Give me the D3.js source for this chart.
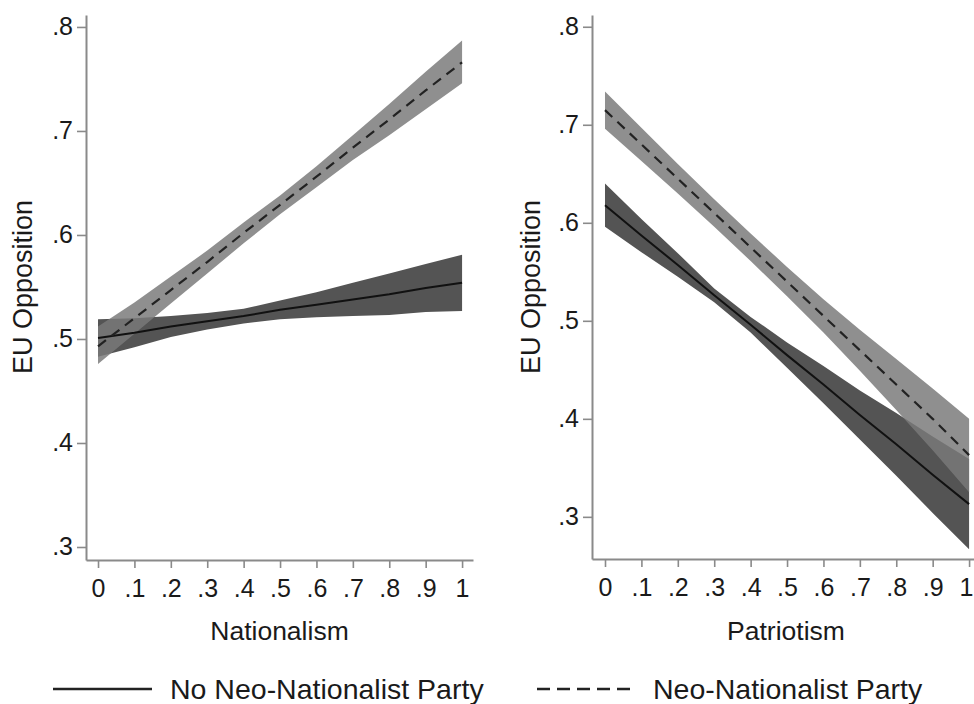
<!DOCTYPE html>
<html>
<head>
<meta charset="utf-8">
<script src="https://cdn.jsdelivr.net/npm/d3@7"></script>
<style>
  html, body { margin: 0; padding: 0; background: #fff; }
  svg { display: block; font-family: "Liberation Sans", Arial, sans-serif; }
</style>
</head>
<body>
<svg id="chart" width="974" height="704"></svg>
<script>
// ---------- data ----------
const xValues = [0, 0.1, 0.2, 0.3, 0.4, 0.5, 0.6, 0.7, 0.8, 0.9, 1];
const xTicks = [0, 0.1, 0.2, 0.3, 0.4, 0.5, 0.6, 0.7, 0.8, 0.9, 1];
const yTicks = [0.3, 0.4, 0.5, 0.6, 0.7, 0.8];
const xTitles = ["Nationalism", "Patriotism"];
const yTitle = "EU Opposition";
const seriesNames = ["No Neo-Nationalist Party", "Neo-Nationalist Party"];

// Panel 1: Nationalism
const natNoFit   = [0.501, 0.506, 0.512, 0.517, 0.522, 0.528, 0.533, 0.538, 0.543, 0.549, 0.554];
const natNoLow   = [0.483, 0.492, 0.502, 0.509, 0.515, 0.519, 0.521, 0.522, 0.523, 0.526, 0.527];
const natNoHigh  = [0.519, 0.520, 0.522, 0.525, 0.529, 0.537, 0.545, 0.554, 0.563, 0.572, 0.581];
const natNeoFit  = [0.493, 0.520, 0.547, 0.574, 0.602, 0.629, 0.656, 0.684, 0.711, 0.739, 0.766];
const natNeoLow  = [0.476, 0.505, 0.534, 0.563, 0.592, 0.620, 0.646, 0.672, 0.696, 0.721, 0.746];
const natNeoHigh = [0.512, 0.535, 0.560, 0.585, 0.612, 0.638, 0.666, 0.696, 0.726, 0.757, 0.787];

// Panel 2: Patriotism
const patNoFit   = [0.618, 0.587, 0.557, 0.526, 0.496, 0.465, 0.435, 0.404, 0.374, 0.343, 0.313];
const patNoLow   = [0.596, 0.570, 0.545, 0.519, 0.488, 0.452, 0.416, 0.379, 0.342, 0.304, 0.267];
const patNoHigh  = [0.640, 0.604, 0.569, 0.533, 0.504, 0.478, 0.454, 0.429, 0.406, 0.382, 0.359];
const patNeoFit  = [0.715, 0.680, 0.645, 0.610, 0.575, 0.540, 0.505, 0.470, 0.435, 0.400, 0.363];
const patNeoLow  = [0.696, 0.663, 0.630, 0.596, 0.561, 0.525, 0.488, 0.449, 0.409, 0.368, 0.325];
const patNeoHigh = [0.734, 0.697, 0.660, 0.624, 0.589, 0.555, 0.522, 0.491, 0.461, 0.431, 0.400];

// ---------- layout ----------
const panels = [
  { title: xTitles[0], xDom: [-0.033, 1.030], xRange: [86, 473], yDom: [0.2875, 0.8115], yRange: [560, 15],
    no: [natNoFit, natNoLow, natNoHigh], neo: [natNeoFit, natNeoLow, natNeoHigh], yTitleX: 32, lastDx: 0 },
  { title: xTitles[1], xDom: [-0.0357, 1.030], xRange: [592, 980], yDom: [0.257, 0.812], yRange: [559, 15],
    no: [patNoFit, patNoLow, patNoHigh], neo: [patNeoFit, patNeoLow, patNeoHigh], yTitleX: 540, lastDx: -3 }
];

const svg = d3.select("#chart");
const axisColor = "#8a8a8a";
const darkFill = "#545454";
const lightFill = "#7a7a7a";
const lightOpacity = 0.84;

const fmt = v => (v === 0 ? "0" : v === 1 ? "1" : d3.format(".1f")(v).replace(/^0/, ""));

panels.forEach(p => {
  const x = d3.scaleLinear().domain(p.xDom).range(p.xRange);
  const y = d3.scaleLinear().domain(p.yDom).range(p.yRange);
  const g = svg.append("g");

  const area = (lo, hi) => d3.area()
    .x((d, i) => x(xValues[i]))
    .y0((d, i) => y(lo[i]))
    .y1((d, i) => y(hi[i]))(xValues);
  const line = vals => d3.line()
    .x((d, i) => x(xValues[i]))
    .y((d, i) => y(vals[i]))(xValues);

  // CI bands
  g.append("path").attr("d", area(p.no[1], p.no[2])).attr("fill", darkFill);
  g.append("path").attr("d", area(p.neo[1], p.neo[2])).attr("fill", lightFill).attr("fill-opacity", lightOpacity);
  // fitted lines
  g.append("path").attr("d", line(p.no[0])).attr("fill", "none").attr("stroke", "#111").attr("stroke-width", 2);
  g.append("path").attr("d", line(p.neo[0])).attr("fill", "none").attr("stroke", "#222")
    .attr("stroke-width", 2.2).attr("stroke-dasharray", "10,7");

  // axes
  const yAxis = d3.axisLeft(y).tickValues(yTicks).tickFormat(fmt).tickSizeInner(9).tickSizeOuter(0).tickPadding(4);
  const xAxis = d3.axisBottom(x).tickValues(xTicks).tickFormat(fmt).tickSizeInner(8).tickSizeOuter(0).tickPadding(11);

  const ya = g.append("g").attr("transform", `translate(${p.xRange[0]},0)`).call(yAxis);
  const xa = g.append("g").attr("transform", `translate(0,${p.yRange[0]})`).call(xAxis);
  [ya, xa].forEach(a => {
    a.select(".domain").attr("stroke", axisColor).attr("stroke-width", 2);
    a.selectAll(".tick line").attr("stroke", axisColor).attr("stroke-width", 1.6);
    a.selectAll(".tick text").attr("fill", "#1a1a1a").attr("font-size", 25)
      .attr("font-family", "'Liberation Sans', Arial, sans-serif");
  });
  xa.selectAll(".tick text").filter(d => d === 1).attr("dx", p.lastDx);

  // titles
  g.append("text").attr("x", (p.xRange[0] + p.xRange[1]) / 2).attr("y", 640)
    .attr("text-anchor", "middle").attr("font-size", 26.5).attr("fill", "#1a1a1a").text(p.title);
  g.append("text").attr("transform", `translate(${p.yTitleX},287) rotate(-90)`)
    .attr("text-anchor", "middle").attr("font-size", 27).attr("fill", "#1a1a1a").text(yTitle);
});

// legend
const legend = svg.append("g");
const legendItems = [
  { name: seriesNames[0], x1: 53, x2: 152, tx: 170, dash: null },
  { name: seriesNames[1], x1: 537, x2: 633, tx: 653, dash: "13,7" }
];
legendItems.forEach(it => {
  legend.append("line").attr("x1", it.x1).attr("x2", it.x2).attr("y1", 689).attr("y2", 689)
    .attr("stroke", "#222").attr("stroke-width", 2.6).attr("stroke-dasharray", it.dash);
  legend.append("text").attr("x", it.tx).attr("y", 699).attr("font-size", 28.5).attr("fill", "#1a1a1a").text(it.name);
});
</script>
</body>
</html>
